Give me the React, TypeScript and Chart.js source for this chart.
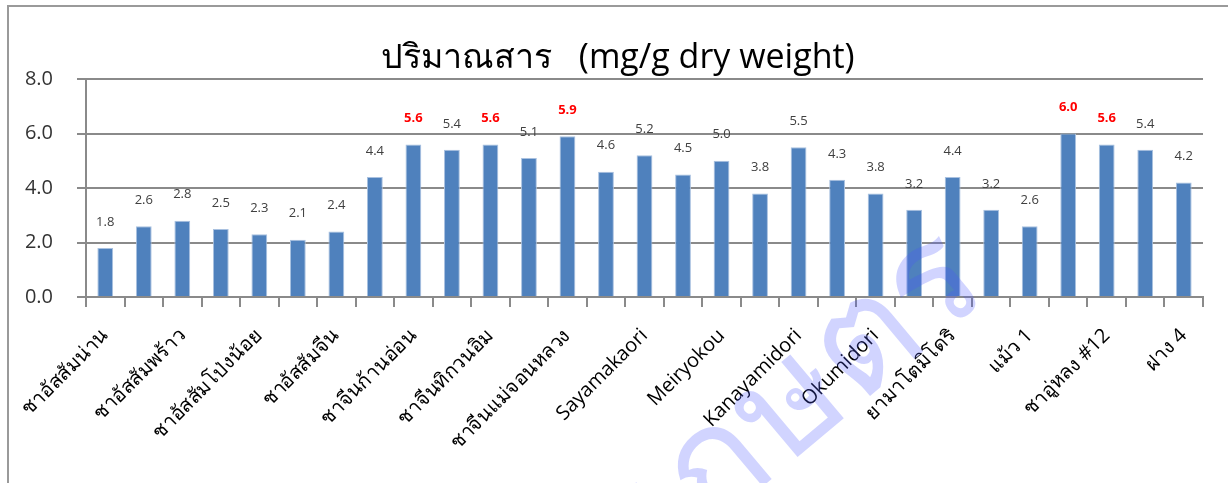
import React, { useEffect, useRef } from "react";
import { Chart, registerables } from "chart.js";

Chart.register(...registerables);

const categories: string[] = [
  "ชาอัสสัมน่าน", "",
  "ชาอัสสัมพร้าว", "",
  "ชาอัสสัมโป่งน้อย", "",
  "ชาอัสสัมจีน", "",
  "ชาจีนก้านอ่อน", "",
  "ชาจีนทิกวนอิม", "",
  "ชาจีนแม่จอนหลวง", "",
  "Sayamakaori", "",
  "Meiryokou", "",
  "Kanayamidori", "",
  "Okumidori", "",
  "ยามาโตมิโดริ", "",
  "แม้ว 1", "",
  "ชาอู่หลง #12", "",
  "ฝาง 4",
];

const values: number[] = [
  1.8, 2.6, 2.8, 2.5, 2.3, 2.1, 2.4, 4.4, 5.6, 5.4, 5.6, 5.1, 5.9, 4.6, 5.2,
  4.5, 5.0, 3.8, 5.5, 4.3, 3.8, 3.2, 4.4, 3.2, 2.6, 6.0, 5.6, 5.4, 4.2,
];

const highlighted: number[] = [8, 10, 12, 25, 26];

const yTicks: number[] = [0, 2, 4, 6, 8];

const titleText = "ปริมาณสาร   (mg/g dry weight)";
const watermarkText = "เกษตร";

const FONT = "'Open Sans', 'Noto Sans', 'DejaVu Sans', sans-serif";

export default function App() {
  const ref = useRef<HTMLCanvasElement | null>(null);

  useEffect(() => {
    if (!ref.current) return;
    const labelPlugin = {
      id: "valueLabels",
      afterDatasetsDraw(chart: any) {
        const ctx = chart.ctx;
        const meta = chart.getDatasetMeta(0);
        ctx.save();
        ctx.textAlign = "center";
        ctx.textBaseline = "middle";
        meta.data.forEach((bar: any, i: number) => {
          const hi = highlighted.includes(i);
          ctx.fillStyle = hi ? "#ff0000" : "#404040";
          ctx.font = (hi ? "bold " : "") + "13px " + FONT;
          ctx.fillText(values[i].toFixed(1), bar.x, bar.y - 26);
        });
        ctx.restore();
      },
    };
    const titlePlugin = {
      id: "customTitle",
      afterDraw(chart: any) {
        const ctx = chart.ctx;
        ctx.save();
        ctx.fillStyle = "#000000";
        ctx.font = "500 34px " + FONT;
        ctx.textAlign = "center";
        ctx.textBaseline = "middle";
        ctx.fillText(titleText, chart.width / 2 + 4, 58);
        // watermark overlay
        ctx.translate(805, 395);
        ctx.rotate((-40 * Math.PI) / 180);
        ctx.fillStyle = "rgba(70, 85, 255, 0.25)";
        ctx.font = "150px " + FONT;
        ctx.fillText(watermarkText, 0, 0);
        ctx.restore();
      },
    };
    const chart = new Chart(ref.current, {
      type: "bar",
      data: {
        labels: categories,
        datasets: [
          {
            data: values,
            backgroundColor: "#4f81bd",
            borderColor: "#a9c1e0",
            borderWidth: 1,
            barPercentage: 0.41,
            categoryPercentage: 1,
          },
        ],
      },
      options: {
        animation: false,
        responsive: false,
        maintainAspectRatio: false,
        layout: { padding: { top: 79, right: 25, left: 0, bottom: 0 } },
        plugins: {
          legend: { display: false },
          title: { display: false },
          tooltip: { enabled: false },
        },
        scales: {
          x: {
            afterFit: (s: any) => {
              s.height = 483 - 297;
            },
            grid: {
              drawOnChartArea: false,
              drawTicks: true,
              tickLength: 10,
              color: "#8a8a8a",
              lineWidth: 2,
              offset: true,
            },
            border: { display: true, color: "#8a8a8a", width: 2 },
            ticks: {
              autoSkip: false,
              maxRotation: 45,
              minRotation: 45,
              padding: 17,
              color: "#000000",
              font: { family: FONT, size: 20 },
            },
          },
          y: {
            min: 0,
            max: 8,
            afterFit: (s: any) => {
              s.width = 86;
            },
            afterBuildTicks: (s: any) => {
              s.ticks = yTicks.map((v) => ({ value: v }));
            },
            grid: {
              color: "#8a8a8a",
              lineWidth: 2,
              tickLength: 9,
            },
            border: { display: true, color: "#8a8a8a", width: 2 },
            ticks: {
              padding: 24,
              color: "#333333",
              font: { family: FONT, size: 20 },
              callback: (v: any) => Number(v).toFixed(1),
            },
          },
        },
      },
      plugins: [labelPlugin, titlePlugin],
    });
    return () => chart.destroy();
  }, []);

  return (
    <div
      style={{
        position: "fixed",
        left: 0,
        top: 0,
        width: 1228,
        height: 483,
        background: "#ffffff",
        overflow: "hidden",
      }}
    >
      <div
        style={{
          position: "absolute",
          left: 7,
          top: 5,
          width: 1300,
          height: 600,
          border: "2px solid #9a9a9a",
          boxSizing: "border-box",
        }}
      />
      <canvas
        ref={ref}
        width={1228}
        height={483}
        style={{ position: "absolute", left: 0, top: 0, width: 1228, height: 483 }}
      />
    </div>
  );
}
